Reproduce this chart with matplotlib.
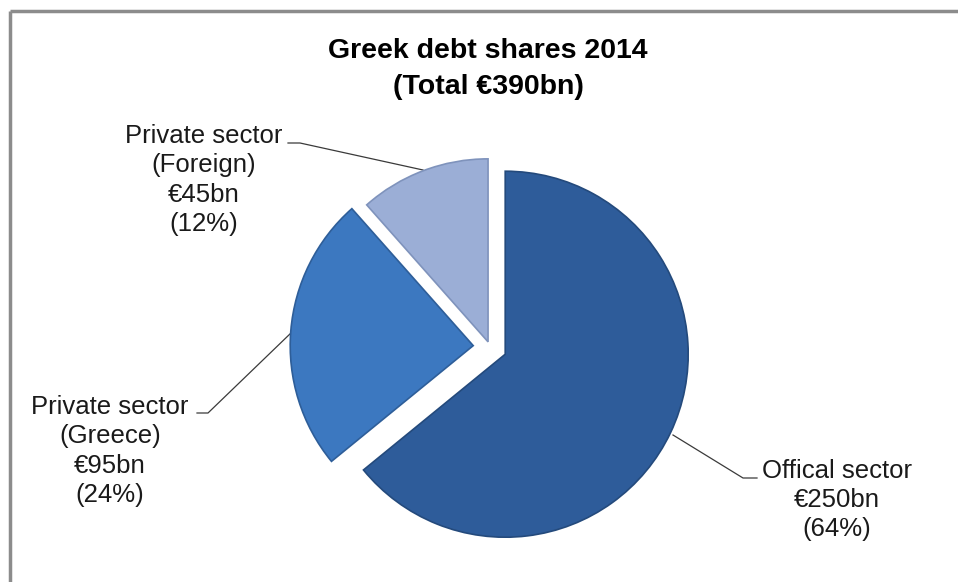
import matplotlib
matplotlib.use("Agg")
import matplotlib.pyplot as plt

# ---- data ----
categories = ["Offical sector", "Private sector\n(Greece)", "Private sector\n(Foreign)"]
values_bn = [250, 95, 45]
percent_labels = ["(64%)", "(24%)", "(12%)"]
value_labels = ["€250bn", "€95bn", "€45bn"]
title_text = "Greek debt shares 2014\n(Total €390bn)"

# ---- style ----
colors = ["#2E5C9A", "#3C78C0", "#9BAED6"]
edges = ["#244A7C", "#2E5E99", "#7F93BC"]
explode = [0.092, 0.092, 0.03]

W, H = 958, 582
fig = plt.figure(figsize=(W / 100, H / 100), dpi=100)
fig.patch.set_facecolor("white")
plt.rcParams["font.family"] = ["Liberation Sans", "DejaVu Sans"]

# overlay axes in pixel coordinates (y downwards)
ax = fig.add_axes([0, 0, 1, 1])
ax.set_xlim(0, W)
ax.set_ylim(H, 0)
ax.axis("off")

# frame (top and left edges visible)
ax.plot([10, W], [11, 11], color="#8C8C8C", lw=2.5, solid_capstyle="butt")
ax.plot([10, 10], [11, H], color="#8C8C8C", lw=2.5, solid_capstyle="butt")

# pie axes: radius 1 == 183 px
R = 183
cx, cy = 490, 347
span = 1.2
pw = 2 * span * R
ax_pie = fig.add_axes([(cx - pw / 2) / W, ((H - cy) - pw / 2) / H, pw / W, pw / H])
wedges, _ = ax_pie.pie(values_bn, colors=colors, explode=explode, startangle=90,
                       counterclock=False, radius=1,
                       wedgeprops=dict(linewidth=1.2))
for w, ec in zip(wedges, edges):
    w.set_edgecolor(ec)
ax_pie.set_xlim(-span, span)
ax_pie.set_ylim(-span, span)
ax_pie.axis("off")

# title
ax.text(488, 68.5, title_text, ha="center", va="center", fontsize=20.5,
        fontweight="bold", color="#000000", linespacing=1.5, multialignment="center")

# labels
txt_kw = dict(ha="center", va="center", fontsize=18.5, color="#1A1A1A",
              linespacing=1.27, multialignment="center")
label_pos = [(837, 500), (110, 451), (204, 180)]
for cat, vl, pl, (x, y) in zip(categories, value_labels, percent_labels, label_pos):
    ax.text(x, y, f"{cat}\n{vl}\n{pl}", **txt_kw)

# leader lines
lw = 0.9
lc = "#3A3A3A"
ax.plot([673, 743, 757], [435, 478, 478], color=lc, lw=lw)
ax.plot([292, 208, 197], [332, 413, 413], color=lc, lw=lw)
ax.plot([423, 300, 288], [170, 143, 143], color=lc, lw=lw)

fig.savefig("out.png", dpi=100, facecolor="white")
